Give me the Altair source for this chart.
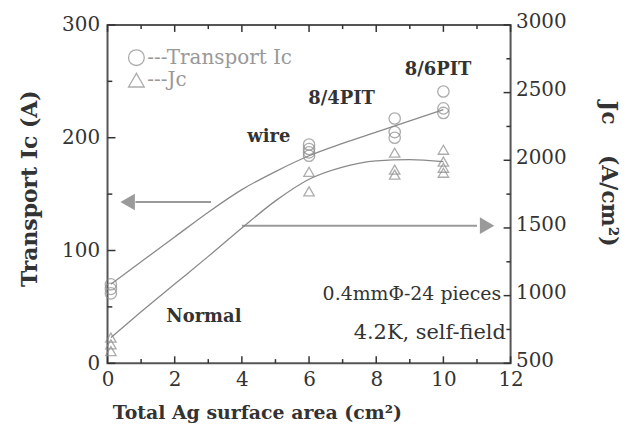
import altair as alt
import pandas as pd

# ---- data ----
ic_x = [0.1, 0.1, 0.1, 6.0, 6.0, 6.0, 6.0, 8.55, 8.55, 8.55, 10.0, 10.0, 10.0]
ic_v = [70, 66, 62, 194, 190, 187, 184, 217, 205, 200, 241, 226, 222]

jc_x = [0.1, 0.1, 0.1, 6.0, 6.0, 8.55, 8.55, 8.55, 10.0, 10.0, 10.0, 10.0]
jc_v = [690, 640, 590, 1915, 1770, 2056, 1931, 1894, 2078, 1990, 1945, 1908]

fit_x = [0.1, 1, 2, 3, 4, 5, 6, 7, 8, 9, 10]
ic_fit = [70, 90, 112, 134, 154, 170, 184, 195, 205, 215, 225]
jc_fit = [690, 880, 1085, 1290, 1500, 1700, 1860, 1950, 1995, 2005, 1990]

x_labels = [0, 2, 4, 6, 8, 10, 12]
x_minor = [1, 3, 5, 7, 9, 11]
ic_labels = [0, 100, 200, 300]
ic_minor = [50, 150, 250]
jc_labels = [500, 1000, 1500, 2000, 2500, 3000]
jc_minor = [750, 1250, 1750, 2250, 2750]

notes = ["8/6PIT", "8/4PIT", "wire", "Normal"]
notes_x = [9.84, 6.97, 4.8, 2.87]
notes_y = [260, 234, 201, 41]

cond_text = ["0.4mm\u03a6-24 pieces", "4.2K, self-field"]
cond_x = [11.72, 11.86]
cond_y = [61, 27]
cond_size = [19, 21]

leg_x = [0.86, 0.86]
leg_y = [271, 251]
leg_shape = ["circle", "triangle-up"]
leg_text = ["---Transport Ic", "---Jc"]

arrow_left = {"x": [0.83, 3.08], "y": [143, 143]}
arrow_right = {"x": [4.0, 11.0], "y": [122, 122]}
heads_x = [0.6, 11.3]
heads_y = [143, 122]
heads_shape = ["triangle-left", "triangle-right"]

# ---- styles ----
FONT = "DejaVu Serif"
INK = "#333333"
MARK = "#8a8a8a"
ARROW = "#9a9a9a"
W, H = 405, 340

xs = alt.Scale(domain=[0, 12], nice=False)
ys_ic = alt.Scale(domain=[0, 300], nice=False)
ys_jc = alt.Scale(domain=[500, 3000], nice=False)

x_axis = alt.Axis(values=x_labels, tickSize=0, domain=False, grid=False, labelFlush=False,
                  labelFont=FONT, labelFontSize=20, labelColor=INK, labelPadding=6,
                  title="Total Ag surface area (cm\u00b2)", titleFont=FONT, titleX=150,
                  titleFontSize=19, titleFontWeight="bold", titleColor=INK, titlePadding=14)
ic_axis = alt.Axis(values=ic_labels, tickSize=0, domain=False, grid=False, labelFlush=False,
                   labelFont=FONT, labelFontSize=20, labelColor=INK, labelPadding=8,
                   title="Transport Ic (A)", titleFont=FONT, titleFontSize=22, titleY=164,
                   titleFontWeight="bold", titleColor=INK, titlePadding=20)
jc_axis = alt.Axis(values=jc_labels, tickSize=0, domain=False, grid=False, orient="right",
                   labelFlush=False, format="d", labelOffset=-3,
                   labelFont=FONT, labelFontSize=20, labelColor=INK, labelPadding=5,
                   title="Jc\u00a0\u00a0\u00a0\u00a0(A/cm\u00b2)", titleFont=FONT, titleFontSize=22,
                   titleY=149, titleFontWeight="bold", titleColor=INK, titleAngle=90,
                   titlePadding=30)

# every layer carries the same axis definition so the shared axes merge cleanly
X = lambda f="x": alt.X(f"{f}:Q", scale=xs, axis=x_axis)
YI = lambda f="y": alt.Y(f"{f}:Q", scale=ys_ic, axis=ic_axis)
YJ = lambda f="y": alt.Y(f"{f}:Q", scale=ys_jc, axis=jc_axis)

df_ic = pd.DataFrame({"x": ic_x, "y": ic_v})
df_jc = pd.DataFrame({"x": jc_x, "y": jc_v})
df_fit = pd.DataFrame({"x": fit_x, "ic": ic_fit, "jc": jc_fit})

# ---- Ic-scaled layers ----
ic_points = alt.Chart(df_ic).mark_point(shape="circle", filled=False, size=130,
                                         stroke=MARK, strokeWidth=1.3).encode(x=X("x"), y=YI("y"))
ic_line = alt.Chart(df_fit).mark_line(color=MARK, strokeWidth=1.3, interpolate="monotone").encode(
    x=X("x"), y=YI("ic"))

df_notes = pd.DataFrame({"x": notes_x, "y": notes_y, "t": notes})
notes_layer = alt.Chart(df_notes).mark_text(font=FONT, fontSize=18, fontWeight="bold",
                                            color=INK).encode(x=X("x"), y=YI("y"), text="t:N")
df_cond = pd.DataFrame({"x": cond_x, "y": cond_y, "t": cond_text, "s": cond_size})
cond_layer = alt.Chart(df_cond).mark_text(font=FONT, color=INK, align="right").encode(
    x=X("x"), y=YI("y"), text="t:N", size=alt.Size("s:Q", scale=None, legend=None))

df_leg = pd.DataFrame({"x": leg_x, "y": leg_y, "shape": leg_shape, "t": leg_text})
leg_marks = alt.Chart(df_leg).mark_point(filled=False, size=250, stroke=MARK, strokeWidth=1.3).encode(
    x=X("x"), y=YI("y"), shape=alt.Shape("shape:N", scale=None, legend=None))
leg_texts = alt.Chart(df_leg).mark_text(font=FONT, fontSize=20, color="#999999", align="left",
                                        dx=11).encode(x=X("x"), y=YI("y"), text="t:N")

arr1 = alt.Chart(pd.DataFrame(arrow_left)).mark_line(color=ARROW, strokeWidth=2).encode(
    x=X("x"), y=YI("y"))
arr2 = alt.Chart(pd.DataFrame(arrow_right)).mark_line(color=ARROW, strokeWidth=2).encode(
    x=X("x"), y=YI("y"))
df_heads = pd.DataFrame({"x": heads_x, "y": heads_y, "shape": heads_shape})
heads = alt.Chart(df_heads).mark_point(filled=True, size=280, color=ARROW, opacity=1).encode(
    x=X("x"), y=YI("y"), shape=alt.Shape("shape:N", scale=None, legend=None))

# inward ticks drawn as short two-point line segments built from the tick lists
PX_X = 12 / W      # x units per pixel
PX_IC = 300 / H    # Ic units per pixel

def tick_rows(major, minor, pos_fn):
    rows = []
    for k, (vals, length) in enumerate([(major, 1.0), (minor, 0.6)]):
        for v in vals:
            for end in (0, 1):
                x, y = pos_fn(v, length, end)
                rows.append({"x": x, "y": y, "g": f"{k}-{v}"})
    return pd.DataFrame(rows)

bottom_df = tick_rows(x_labels, x_minor, lambda v, l, e: (v, e * 7 * l * PX_IC))
top_df = tick_rows(x_labels, x_minor, lambda v, l, e: (v, 300 - e * 7 * l * PX_IC))
left_df = tick_rows(ic_labels, ic_minor, lambda v, l, e: (e * 8 * l * PX_X, v))
right_df = tick_rows(jc_labels, jc_minor, lambda v, l, e: (12 - e * 7 * l * PX_X, v))

def tick_layer(d, yenc):
    return alt.Chart(d).mark_line(color=INK, strokeWidth=1.5).encode(
        x=X("x"), y=yenc, detail="g:N")

left_group = alt.layer(
    ic_points,
    tick_layer(bottom_df, YI("y")), tick_layer(top_df, YI("y")), tick_layer(left_df, YI("y")),
    arr1, arr2, heads, ic_line,
    notes_layer, cond_layer, leg_marks, leg_texts,
)

# ---- Jc-scaled layers ----
jc_points = alt.Chart(df_jc).mark_point(shape="triangle-up", filled=False, size=110,
                                         stroke=MARK, strokeWidth=1.3).encode(x=X("x"), y=YJ("y"))
jc_line = alt.Chart(df_fit).mark_line(color=MARK, strokeWidth=1.3, interpolate="monotone").encode(
    x=X("x"), y=YJ("jc"))

right_group = alt.layer(jc_points, tick_layer(right_df, YJ("y")), jc_line)

chart = alt.layer(left_group, right_group).resolve_scale(y="independent").properties(
    width=W, height=H,
    autosize=alt.AutoSizeParams(type="none"),
    padding={"left": 100, "top": 16, "right": 120, "bottom": 64},
    background="white",
).configure_view(stroke="#555555", strokeWidth=2)

chart.save("out.html", embed_options={"renderer": "svg", "actions": False})
